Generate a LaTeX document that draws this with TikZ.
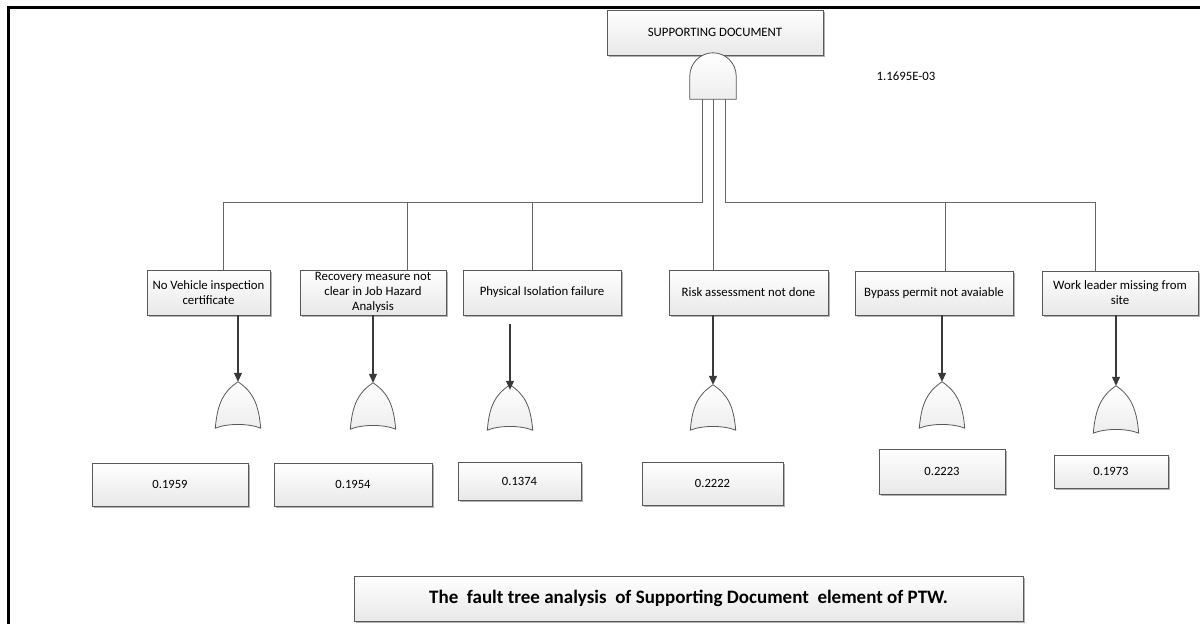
\documentclass[tikz,border=0pt]{standalone}
\usepackage{fontspec}
\setmainfont{Carlito}
\usetikzlibrary{arrows.meta,shadows,calc}
\definecolor{boxline}{HTML}{595959}
\definecolor{wirecol}{HTML}{666666}
\definecolor{arrcol}{HTML}{3A3A3A}
\tikzset{
  box/.style={draw=boxline,line width=0.8pt,top color=white,bottom color=black!9,
    drop shadow={shadow xshift=1.6pt,shadow yshift=-1.6pt,opacity=0.3,fill=black},
    inner sep=0pt,align=center,font=\fontsize{12.8}{15}\selectfont},
  valbox/.style={box,font=\fontsize{12.6}{15}\selectfont},
  gatenode/.style={inner sep=0pt,minimum width=45pt,minimum height=#1},
  gateline/.style={draw=boxline,line width=0.8pt,top color=white,bottom color=black!7},
  wire/.style={draw=wirecol,line width=0.8pt},
  arr/.style={draw=arrcol,line width=1.2pt,-{Triangle[length=9pt,width=8pt]}}
}
% OR gate outline drawn inside the bounds of an (empty) gate node
\newcommand\orshape[1]{%
  \draw[gateline] (#1.south west)
    .. controls ($(#1.south west)+(2pt,24pt)$) and ($(#1.north)+(-15pt,-10pt)$) .. (#1.north)
    .. controls ($(#1.north)+(15pt,-10pt)$) and ($(#1.south east)+(-2pt,24pt)$) .. (#1.south east)
    .. controls ($(#1.south east)+(-12pt,5pt)$) and ($(#1.south west)+(12pt,5pt)$) .. cycle;}
\begin{document}
\begin{tikzpicture}[x=1pt,y=-1pt]
\useasboundingbox (0,0) rectangle (1200,624);
\fill[white] (0,0) rectangle (1200,624);
% outer frame
\draw[line width=3pt,black] (8.5,624) -- (8.5,7.5) -- (1200,7.5);

% top event and AND gate
\node[box,minimum width=216pt,minimum height=45pt] (top) at (715,32.5) {SUPPORTING DOCUMENT};
\node[inner sep=0pt,minimum width=46pt,minimum height=46pt] (andg) at (713,76) {};
\draw[gateline] (andg.south west) -- (andg.west)
  .. controls ($(andg.west)+(0,12.7pt)$) and ($(andg.north)+(-12.7pt,0)$) .. (andg.north)
  .. controls ($(andg.north)+(12.7pt,0)$) and ($(andg.east)+(0,12.7pt)$) .. (andg.east)
  -- (andg.south east) -- cycle;
\node[font=\fontsize{12.8}{15}\selectfont] (prob) at (906,76) {1.1695E-03};

% basic events
\node[box,minimum width=123pt,minimum height=45pt] (e1) at (208.5,292.5) {No Vehicle inspection\\certificate};
\node[box,minimum width=146pt,minimum height=45pt] (e2) at (373,292.5) {Recovery measure not\\clear in Job Hazard\\Analysis};
\node[box,minimum width=158pt,minimum height=45pt] (e3) at (542,292.5) {Physical Isolation failure};
\node[box,minimum width=159pt,minimum height=45pt] (e4) at (748.5,292.5) {Risk assessment not done};
\node[box,minimum width=158pt,minimum height=44pt] (e5) at (934,293) {Bypass permit not avaiable};
\node[box,minimum width=156pt,minimum height=44pt] (e6) at (1120,293) {Work leader missing from\\site};

% connectors from the AND gate
\coordinate (tapL) at (702,99);
\coordinate (tapM) at (713,99);
\coordinate (tapR) at (725,99);
\coordinate (bus) at (0,202);
\coordinate (dropA) at (223,270);
\coordinate (dropB) at (407,270);
\coordinate (dropC) at (532,270);
\coordinate (dropE) at (945,271);
\coordinate (dropF) at (1095,271);
\draw[wire] (tapL) -- (tapL |- bus) -| (dropA);
\draw[wire] (dropB |- bus) -- (dropB);
\draw[wire] (dropC |- bus) -- (dropC);
\draw[wire] (tapR) -- (tapR |- bus) -| (dropF);
\draw[wire] (dropE |- bus) -- (dropE);
\draw[wire] (tapM) -- (tapM |- e4.north);

% OR gates
\node[gatenode=46pt] (g1) at (238,405) {};
\node[gatenode=46pt] (g2) at (373,406) {};
\node[gatenode=45pt] (g3) at (510,407.5) {};
\node[gatenode=45pt] (g4) at (713,407.5) {};
\node[gatenode=46pt] (g5) at (942,405) {};
\node[gatenode=47pt] (g6) at (1116,409.5) {};
\foreach \g in {g1,g2,g3,g4,g5,g6} {\orshape{\g}}

% arrows into the OR gates
\draw[arr] (e1.south -| g1.north) -- (g1.north);
\draw[arr] (e2.south -| g2.north) -- (g2.north);
\draw[arr] ($(e3.south -| g3.north)+(0,-9pt)$) -- ($(g3.north)+(0,-5pt)$);
\draw[arr] (e4.south -| g4.north) -- (g4.north);
\draw[arr] (e5.south -| g5.north) -- (g5.north);
\draw[arr] (e6.south -| g6.north) -- (g6.north);

% probabilities
\node[valbox,minimum width=156pt,minimum height=43pt] (v1) at (170,484.5) {0.1959};
\node[valbox,minimum width=158pt,minimum height=43pt] (v2) at (353,484.5) {0.1954};
\node[valbox,minimum width=123pt,minimum height=38pt] (v3) at (519.5,481) {0.1374};
\node[valbox,minimum width=141pt,minimum height=43pt] (v4) at (712.5,483.5) {0.2222};
\node[valbox,minimum width=126pt,minimum height=45pt] (v5) at (942,471.5) {0.2223};
\node[valbox,minimum width=114pt,minimum height=33pt] (v6) at (1111,471.5) {0.1973};

% caption
\node[box,minimum width=669pt,minimum height=45pt,font=\bfseries\fontsize{19}{22}\selectfont] (cap) at (688.5,598.5)
  {The\ \ fault tree analysis\ \ of Supporting Document\ \ element of PTW.};
\end{tikzpicture}
\end{document}
